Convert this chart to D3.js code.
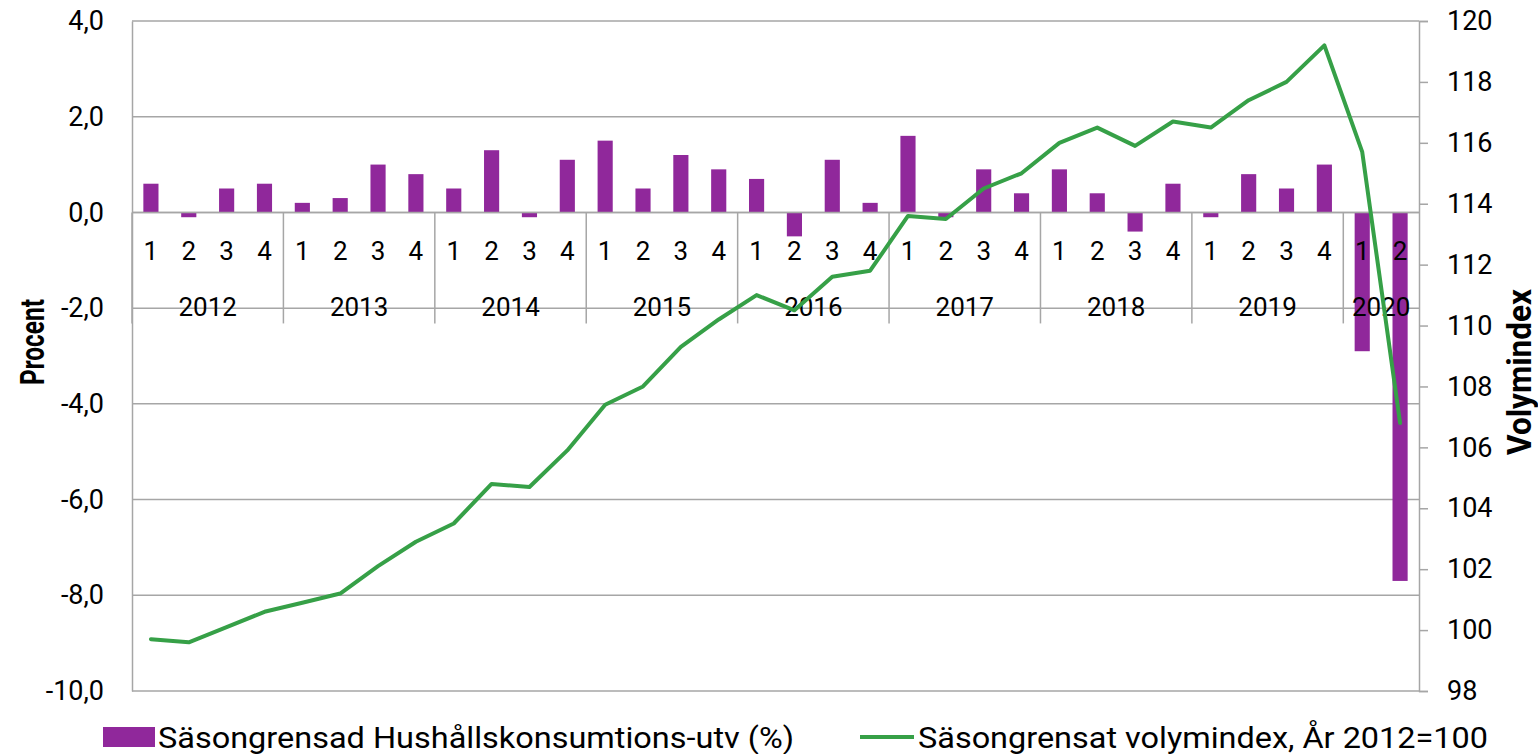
<!DOCTYPE html>
<meta charset="utf-8">
<style>
    body { margin: 0; background: #fff; }
    svg { font-family: Roboto, sans-serif; }
</style>
<svg id="chart" width="1538" height="754"></svg>
<script src="https://cdn.jsdelivr.net/npm/d3@7"></script>
<script>
    // kvartal 2012Q1 - 2020Q2
    var years = ["2012", "2013", "2014", "2015", "2016", "2017", "2018", "2019", "2020"];
    var quarters = ["1", "2", "3", "4"];

    // Säsongrensad Hushållskonsumtions-utv (%)
    var growth = [
        0.6, -0.1, 0.5, 0.6,
        0.2, 0.3, 1.0, 0.8,
        0.5, 1.3, -0.1, 1.1,
        1.5, 0.5, 1.2, 0.9,
        0.7, -0.5, 1.1, 0.2,
        1.6, -0.1, 0.9, 0.4,
        0.9, 0.4, -0.4, 0.6,
        -0.1, 0.8, 0.5, 1.0,
        -2.9, -7.7
    ];

    // Säsongrensat volymindex, År 2012=100
    var volume = [
        99.7, 99.6, 100.1, 100.6,
        100.9, 101.2, 102.1, 102.9,
        103.5, 104.8, 104.7, 105.9,
        107.4, 108.0, 109.3, 110.2,
        111.0, 110.5, 111.6, 111.8,
        113.6, 113.5, 114.5, 115.0,
        116.0, 116.5, 115.9, 116.7,
        116.5, 117.4, 118.0, 119.2,
        115.7, 106.8
    ];

    var leftTicks = [-10, -8, -6, -4, -2, 0, 2, 4];
    var rightTicks = [98, 100, 102, 104, 106, 108, 110, 112, 114, 116, 118, 120];

    var seriesNames = ["Säsongrensad Hushållskonsumtions-utv (%)", "Säsongrensat volymindex, År 2012=100"];

    var barColor = "#90289b",
        lineColor = "#36a047",
        gridColor = "#a6a6a6";

    var svg = d3.select("#chart"),
        pLeft = 132,
        pRight = 1419,
        pTop = 21,
        pBottom = 691;

    // lista med kategorier, år + kvartal
    var cats = [];
    for (var i = 0; i < growth.length; i++) {
        cats.push({ year: years[Math.floor(i / 4)], q: quarters[i % 4], i: i });
    }

    var x = d3.scaleBand()
        .domain(cats.map(function (d) { return d.i; }))
        .range([pLeft, pRight])
        .padding(0);

    var y = d3.scaleLinear().domain([-10, 4]).range([pBottom, pTop]);
    var y2 = d3.scaleLinear().domain([98, 120]).range([pBottom, pTop]);

    var bw = x.bandwidth();

    // gridlinjer
    svg.append("g")
        .selectAll("line")
        .data(leftTicks)
        .enter().append("line")
        .attr("x1", pLeft)
        .attr("x2", pRight)
        .attr("y1", function (d) { return y(d); })
        .attr("y2", function (d) { return y(d); })
        .attr("stroke", gridColor)
        .attr("stroke-width", 1.5);

    // vänster axel
    var yAxis = svg.append("g")
        .attr("transform", "translate(" + pLeft + ",0)")
        .call(d3.axisLeft(y).tickValues(leftTicks).tickSize(0).tickPadding(28)
            .tickFormat(function (d) { return d3.format(".1f")(d).replace(".", ",").replace("−", "-"); }));
    yAxis.select(".domain").attr("stroke", gridColor).attr("stroke-width", 1.5);
    yAxis.selectAll("text").attr("font-size", 27).attr("fill", "#000").attr("font-family", "Roboto");

    // höger axel
    var y2Axis = svg.append("g")
        .attr("transform", "translate(" + pRight + ",0)")
        .call(d3.axisRight(y2).tickValues(rightTicks).tickSize(9).tickPadding(19));
    y2Axis.select(".domain").attr("stroke", gridColor).attr("stroke-width", 1.5);
    y2Axis.selectAll(".tick line").attr("stroke", gridColor).attr("stroke-width", 1.5);
    y2Axis.selectAll("text").attr("font-size", 27).attr("fill", "#000").attr("font-family", "Roboto");

    // staplar
    svg.append("g")
        .selectAll("rect")
        .data(cats)
        .enter().append("rect")
        .attr("x", function (d) { return x(d.i) + bw * 0.3; })
        .attr("width", bw * 0.4)
        .attr("y", function (d) { return y(Math.max(0, growth[d.i])); })
        .attr("height", function (d) { return Math.abs(y(growth[d.i]) - y(0)); })
        .attr("fill", barColor);

    // kategoriaxel (flernivå) vid noll
    var catAxis = svg.append("g");
    catAxis.append("line")
        .attr("x1", pLeft).attr("x2", pRight)
        .attr("y1", y(0)).attr("y2", y(0))
        .attr("stroke", gridColor).attr("stroke-width", 1.5);

    var yearStarts = years.map(function (yr, k) { return k * 4; });
    catAxis.selectAll(".sep")
        .data(yearStarts)
        .enter().append("line")
        .attr("x1", function (d) { return x(d); })
        .attr("x2", function (d) { return x(d); })
        .attr("y1", y(0))
        .attr("y2", y(0) + 111)
        .attr("stroke", gridColor).attr("stroke-width", 1.5);

    catAxis.selectAll(".q")
        .data(cats)
        .enter().append("text")
        .attr("x", function (d) { return x(d.i) + bw / 2; })
        .attr("y", y(0) + 48)
        .attr("text-anchor", "middle")
        .attr("font-size", 26)
        .text(function (d) { return d.q; });

    catAxis.selectAll(".yr")
        .data(years)
        .enter().append("text")
        .attr("x", function (d, k) {
            var n = cats.filter(function (c) { return c.year === d; }).length;
            return x(k * 4) + n * bw / 2;
        })
        .attr("y", y(0) + 104)
        .attr("text-anchor", "middle")
        .attr("font-size", 26)
        .text(function (d) { return d; });

    // linje
    var line = d3.line()
        .x(function (d, i) { return x(i) + bw / 2; })
        .y(function (d) { return y2(d); });

    svg.append("path")
        .datum(volume)
        .attr("d", line)
        .attr("fill", "none")
        .attr("stroke", lineColor)
        .attr("stroke-width", 4)
        .attr("stroke-linejoin", "round")
        .attr("stroke-linecap", "round");

    // axeltitlar
    svg.append("text")
        .attr("transform", "translate(44,342)rotate(-90)")
        .attr("text-anchor", "middle")
        .attr("font-size", 34)
        .attr("font-weight", "bold")
        .attr("textLength", 86)
        .attr("lengthAdjust", "spacingAndGlyphs")
        .text("Procent");

    svg.append("text")
        .attr("transform", "translate(1531,372)rotate(-90)")
        .attr("text-anchor", "middle")
        .attr("font-size", 34)
        .attr("font-weight", "bold")
        .attr("textLength", 166)
        .attr("lengthAdjust", "spacingAndGlyphs")
        .text("Volymindex");

    // legend
    var legend = svg.append("g");
    legend.append("rect")
        .attr("x", 103).attr("y", 727)
        .attr("width", 52).attr("height", 20)
        .attr("fill", barColor);
    legend.append("text")
        .attr("x", 158).attr("y", 748)
        .attr("font-size", 30)
        .attr("textLength", 636)
        .attr("lengthAdjust", "spacingAndGlyphs")
        .text(seriesNames[0]);

    legend.append("line")
        .attr("x1", 860).attr("x2", 914)
        .attr("y1", 737).attr("y2", 737)
        .attr("stroke", lineColor).attr("stroke-width", 4);
    legend.append("text")
        .attr("x", 918).attr("y", 748)
        .attr("font-size", 30)
        .attr("textLength", 570)
        .attr("lengthAdjust", "spacingAndGlyphs")
        .text(seriesNames[1]);
</script>
